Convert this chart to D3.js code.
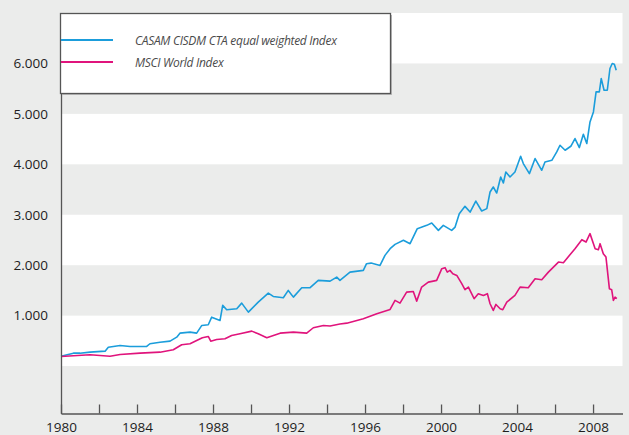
<!DOCTYPE html>
<html>
<head>
<meta charset="utf-8">
<script src="https://cdn.jsdelivr.net/npm/d3@7"></script>
<style>
  body { margin: 0; background: #ebeceb; }
  svg { display: block; }
</style>
</head>
<body>
<div id="chart"></div>
<script>
// series as [year, index value]
var casamCta = [
    [1980.00, 196], [1980.65, 256], [1981.00, 256], [1981.53, 276], [1982.32, 296],
    [1982.49, 375], [1983.11, 409], [1983.63, 389], [1984.51, 389], [1984.68, 443],
    [1985.21, 474], [1985.74, 494], [1986.09, 574], [1986.26, 653], [1986.79, 673],
    [1987.14, 653], [1987.41, 806], [1987.75, 820], [1987.93, 970], [1988.37, 905],
    [1988.51, 1203], [1988.72, 1117], [1989.25, 1137], [1989.51, 1248], [1989.86, 1070],
    [1990.38, 1268], [1990.91, 1447], [1991.17, 1381], [1991.70, 1355], [1991.96, 1500],
    [1992.23, 1367], [1992.67, 1554], [1993.11, 1554], [1993.54, 1699], [1994.16, 1685],
    [1994.51, 1764], [1994.68, 1699], [1995.21, 1863], [1995.91, 1897], [1996.08, 2030],
    [1996.32, 2042], [1996.79, 1996], [1997.05, 2195], [1997.32, 2328], [1997.58, 2413],
    [1998.02, 2493], [1998.37, 2427], [1998.75, 2725], [1999.25, 2790], [1999.51, 2836],
    [1999.86, 2691], [2000.12, 2790], [2000.56, 2691], [2000.74, 2756], [2000.96, 3022],
    [2001.26, 3167], [2001.53, 3054], [2001.83, 3272], [2002.14, 3074], [2002.41, 3122],
    [2002.58, 3451], [2002.75, 3550], [2002.93, 3431], [2003.14, 3749], [2003.28, 3630],
    [2003.41, 3848], [2003.63, 3749], [2003.89, 3848], [2004.19, 4159], [2004.33, 4015],
    [2004.65, 3816], [2004.95, 4114], [2005.30, 3882], [2005.47, 4046], [2005.83, 4080],
    [2006.09, 4245], [2006.26, 4378], [2006.53, 4279], [2006.83, 4358], [2007.05, 4511],
    [2007.28, 4332], [2007.49, 4596], [2007.67, 4412], [2007.84, 4840], [2008.02, 5039],
    [2008.16, 5436], [2008.33, 5436], [2008.43, 5701], [2008.58, 5469], [2008.75, 5469],
    [2008.89, 5900], [2009.01, 5999], [2009.12, 5985], [2009.22, 5866]
];

var msciWorld = [
    [1980.00, 191], [1981.53, 224], [1982.58, 196], [1983.11, 230], [1984.16, 256],
    [1985.21, 276], [1985.91, 325], [1986.35, 423], [1986.79, 443], [1987.14, 508],
    [1987.44, 562], [1987.75, 587], [1987.88, 494], [1988.19, 528], [1988.63, 542],
    [1988.98, 607], [1989.42, 641], [1990.04, 693], [1990.38, 641], [1990.83, 562],
    [1991.53, 653], [1992.23, 673], [1992.93, 653], [1993.28, 760], [1993.81, 806],
    [1994.16, 796], [1994.68, 835], [1995.04, 851], [1995.91, 939], [1996.62, 1038],
    [1997.32, 1123], [1997.58, 1302], [1997.84, 1248], [1998.19, 1467], [1998.54, 1480],
    [1998.72, 1288], [1998.98, 1566], [1999.33, 1665], [1999.59, 1685], [1999.77, 1699],
    [2000.04, 1931], [2000.21, 1951], [2000.33, 1863], [2000.47, 1897], [2000.62, 1832],
    [2000.83, 1798], [2001.09, 1633], [2001.26, 1514], [2001.44, 1566], [2001.74, 1336],
    [2001.96, 1435], [2002.23, 1401], [2002.44, 1435], [2002.58, 1236], [2002.75, 1103],
    [2002.89, 1222], [2003.11, 1137], [2003.25, 1117], [2003.46, 1268], [2003.89, 1401],
    [2004.16, 1566], [2004.59, 1554], [2004.95, 1732], [2005.30, 1713], [2005.65, 1863],
    [2006.18, 2062], [2006.44, 2050], [2007.05, 2328], [2007.41, 2506], [2007.63, 2459],
    [2007.84, 2626], [2008.11, 2328], [2008.28, 2308], [2008.37, 2427], [2008.54, 2229],
    [2008.68, 2161], [2008.86, 1534], [2008.98, 1514], [2009.07, 1302], [2009.16, 1367],
    [2009.25, 1336]
];

var seriesNames = ["CASAM CISDM CTA equal weighted Index", "MSCI World Index"];
var yTickValues = [1000, 2000, 3000, 4000, 5000, 6000];
var xTickYears = d3.range(1980, 2009, 2);
var bandStarts = [0, 2000, 4000, 6000]; // white bands, 1000 wide

var width = 629, height = 435;
var colors = ["#1b9ddb", "#e0147c"];

var svg = d3.select("#chart")
    .append("svg")
    .attr("width", width)
    .attr("height", height);

svg.append("rect")
    .attr("width", width)
    .attr("height", height)
    .attr("fill", "#ebeceb");

var x = d3.scaleLinear().domain([1980, 2009.55]).range([61, 622.5]);
var y = d3.scaleLinear().domain([-940, 7000]).range([413.5, 13]);

// white bands
svg.selectAll(".band")
    .data(bandStarts)
    .enter()
    .append("rect")
    .attr("x", x(1980))
    .attr("width", x.range()[1] - x(1980))
    .attr("y", d => y(d + 1000))
    .attr("height", d => y(d) - y(d + 1000))
    .attr("fill", "#fff");

// lines
var line = d3.line()
    .x(d => x(d[0]))
    .y(d => y(d[1]));

svg.selectAll(".series")
    .data([casamCta, msciWorld])
    .enter()
    .append("path")
    .attr("d", line)
    .attr("fill", "none")
    .attr("stroke", (d, i) => colors[i])
    .attr("stroke-width", 1.6)
    .attr("stroke-linejoin", "round");

var de = d3.formatLocale({decimal: ",", thousands: ".", grouping: [3], currency: ["", "€"]});
var fmt = de.format(",.0f");

// y axis
var yAxis = svg.append("g")
    .attr("transform", "translate(" + x(1980) + ",0)")
    .call(d3.axisLeft(y)
        .tickValues(yTickValues)
        .tickFormat(fmt)
        .tickSizeInner(0)
        .tickSizeOuter(0)
        .tickPadding(13));

// x axis, ticks pointing up
var xAxis = svg.append("g")
    .attr("transform", "translate(0," + y.range()[0] + ")")
    .call(d3.axisBottom(x)
        .tickValues(xTickYears)
        .tickFormat(d => d % 4 === 0 ? d : "")
        .tickSizeInner(-9)
        .tickSizeOuter(0)
        .tickPadding(9));

[yAxis, xAxis].forEach(function (g) {
    g.select(".domain").attr("stroke", "#555").attr("stroke-width", 1.3);
    g.selectAll(".tick line").attr("stroke", "#555").attr("stroke-width", 1.3);
    g.selectAll("text")
        .attr("fill", "#1e1e1e")
        .style("font-family", "'Open Sans', sans-serif")
        .style("font-size", "13.5px");
});

// legend
var legend = svg.append("g");
legend.append("rect")
    .attr("x", 62).attr("y", 15)
    .attr("width", 330).attr("height", 80)
    .attr("fill", "#bbb");
legend.append("rect")
    .attr("x", 60.5).attr("y", 13.5)
    .attr("width", 330).attr("height", 80)
    .attr("fill", "#fff")
    .attr("stroke", "#555")
    .attr("stroke-width", 1.3);

var item = legend.selectAll(".item")
    .data(seriesNames)
    .enter()
    .append("g")
    .attr("transform", (d, i) => "translate(0," + (40 + i * 22) + ")");
item.append("line")
    .attr("x1", 61).attr("x2", 113)
    .attr("stroke", (d, i) => colors[i])
    .attr("stroke-width", 2.2);
item.append("text")
    .attr("x", 135)
    .attr("dy", "0.4em")
    .attr("fill", "#4a4a4a")
    .style("font-family", "'Open Sans', sans-serif")
    .style("font-style", "italic")
    .style("font-size", "12px")
    .style("letter-spacing", "-0.3px")
    .text(d => d);
</script>
</body>
</html>
